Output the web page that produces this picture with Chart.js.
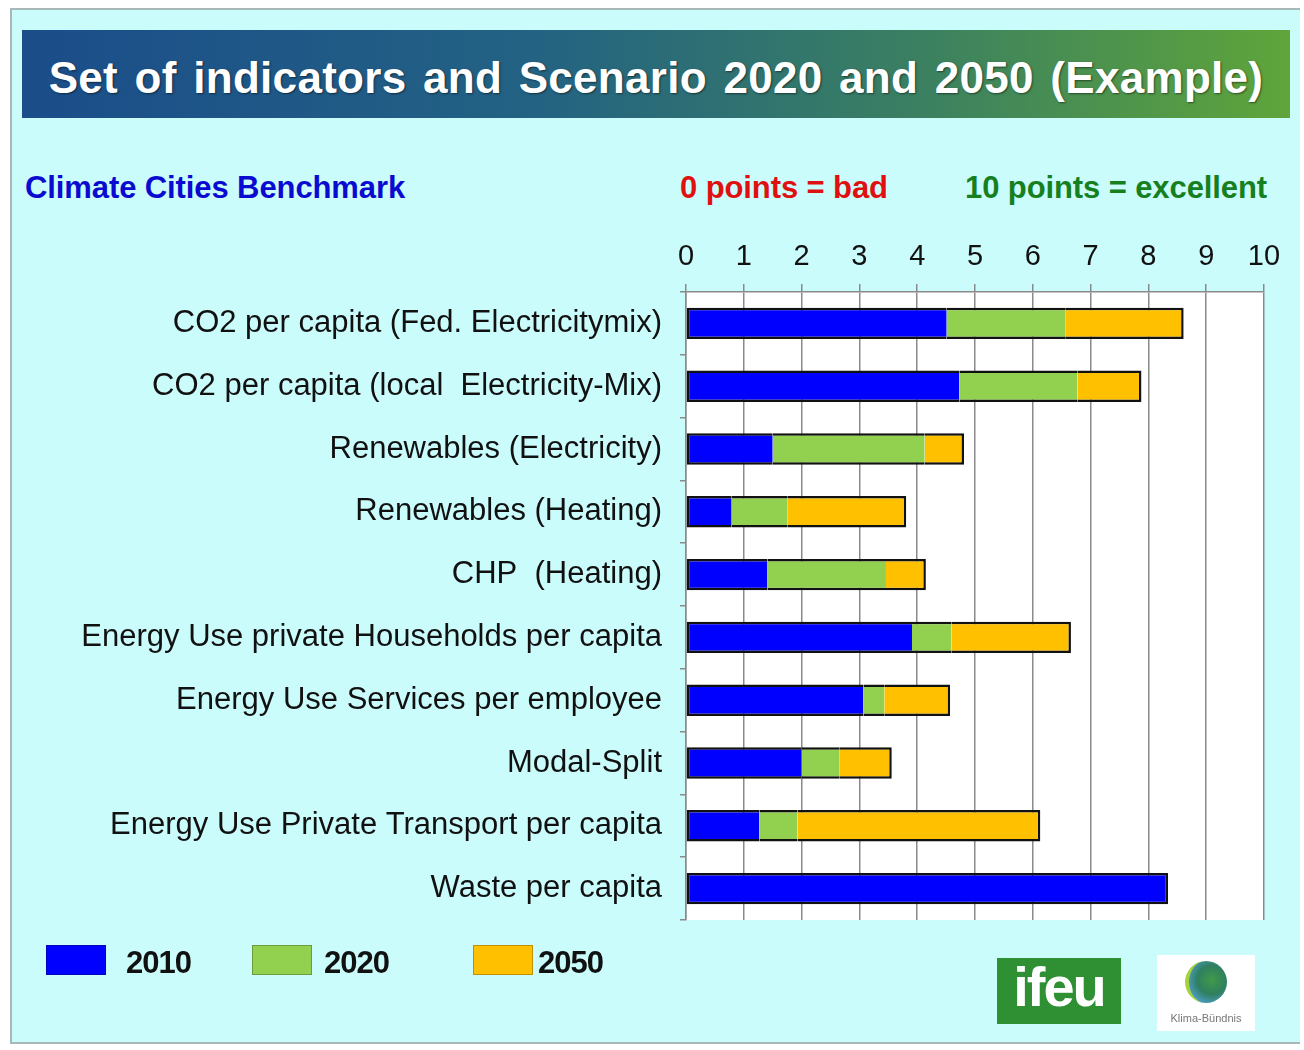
<!DOCTYPE html>
<html>
<head>
<meta charset="utf-8">
<script src="https://cdn.jsdelivr.net/npm/chart.js@4/dist/chart.umd.min.js"></script>
<style>
  html, body { margin:0; padding:0; }
  body { width:1304px; height:1050px; position:relative; overflow:hidden; background:#ffffff; font-family:"Liberation Sans", Arial, sans-serif; }
  #frame { position:absolute; left:10px; top:8px; width:1290px; height:1036px; background:#cbfcfc; border-left:2px solid #a8b8b8; border-top:2px solid #a8b8b8; border-bottom:2px solid #a8b8b8; box-sizing:border-box; }
  #banner { position:absolute; left:22px; top:30px; width:1268px; height:88px; background:linear-gradient(90deg,#1b4d8a 0%,#236283 40%,#3a7f62 70%,#5fa53a 100%); }
  #title { position:absolute; left:22px; top:34px; width:1268px; height:88px; line-height:88px; text-align:center; color:#fff; font-weight:bold; font-size:44px; letter-spacing:0.3px; word-spacing:4px; text-shadow:1px 1px 2px rgba(0,0,0,0.5); white-space:nowrap; }
  .hdr { position:absolute; top:170px; font-weight:bold; font-size:31px; letter-spacing:-0.1px; white-space:nowrap; line-height:36px; }
  #chartwrap { position:absolute; left:0; top:0; width:1304px; height:1050px; }
  .lg { position:absolute; top:945px; height:32px; }
  .lgbox { position:absolute; top:0; width:60px; height:30px; box-sizing:border-box; }
  .lgtxt { position:absolute; top:0px; font-weight:bold; font-size:31px; letter-spacing:-1px; line-height:36px; color:#111; }
  #ifeu { position:absolute; left:997px; top:958px; width:124px; height:66px; background:#2f8f33; color:#fff; font-weight:bold; font-size:56px; line-height:58px; text-align:center; letter-spacing:-2px; overflow:hidden; }
  #kb { position:absolute; left:1157px; top:955px; width:98px; height:76px; background:#fff; }
  #kb .globe { position:absolute; left:28px; top:6px; width:42px; height:42px; border-radius:50%; background:radial-gradient(circle at 60% 45%,#3f9a4a 0%,#2f7f5f 45%,#4f9fd0 80%); border-left:4px solid #a6d23c; box-sizing:border-box; }
  #kb .t { position:absolute; left:0; top:57px; width:98px; text-align:center; font-size:11px; color:#777; }
</style>
</head>
<body>
<div id="frame"></div>
<div id="banner"></div>
<div id="title">Set of indicators and Scenario 2020 and 2050 (Example)</div>
<div class="hdr" style="left:25px;color:#0a0ad0;">Climate Cities Benchmark</div>
<div class="hdr" style="left:680px;color:#e01010;">0 points = bad</div>
<div class="hdr" style="left:965px;color:#16801e;">10 points = excellent</div>
<div id="chartwrap"><canvas id="c" width="1304" height="1050"></canvas></div>
<div id="legend"></div>
<div id="ifeu">ifeu</div>
<div id="kb"><div class="globe"></div><div class="t">Klima-Bündnis</div></div>
<script>
const categories = [
  "CO2 per capita (Fed. Electricitymix)",
  "CO2 per capita (local  Electricity-Mix)",
  "Renewables (Electricity)",
  "Renewables (Heating)",
  "CHP  (Heating)",
  "Energy Use private Households per capita",
  "Energy Use Services per employee",
  "Modal-Split",
  "Energy Use Private Transport per capita",
  "Waste per capita"
];
const seriesNames = ["2010", "2020", "2050"];
// points reached by 2010, additional points by 2020, additional points by 2050
const v2010 = [4.51, 4.73, 1.50, 0.79, 1.41, 3.91, 3.07, 2.00, 1.27, 8.34];
const v2020 = [2.05, 2.04, 2.63, 0.97, 2.05, 0.68, 0.36, 0.66, 0.66, 0];
const v2050 = [2.05, 1.11, 0.68, 2.05, 0.69, 2.07, 1.14, 0.90, 4.20, 0];
const xTickMin = 0, xTickMax = 10, xTickStep = 1;
const colors = ["#0000ff", "#92d050", "#ffc000"];

const seriesData = [v2010, v2020, v2050];

// legend (HTML)
const legendPos = [[46, 126], [252, 324], [473, 538]];
const lg = document.getElementById('legend');
seriesNames.forEach((n, i) => {
  const d = document.createElement('div');
  d.className = 'lg';
  d.style.left = '0px';
  d.innerHTML = '<div class="lgbox" style="left:' + legendPos[i][0] + 'px;background:' + colors[i] + ';border:1px solid rgba(0,0,0,0.25)"></div>' +
                '<div class="lgtxt" style="left:' + legendPos[i][1] + 'px">' + n + '</div>';
  lg.appendChild(d);
});

function borderFor(dsIndex) {
  return (ctx) => {
    const i = ctx.dataIndex;
    const v = seriesData[dsIndex][i];
    if (!v) return 0;
    let isFirst = true, isLast = true;
    for (let k = 0; k < dsIndex; k++) if (seriesData[k][i]) isFirst = false;
    for (let k = dsIndex + 1; k < seriesData.length; k++) if (seriesData[k][i]) isLast = false;
    return { top: 2.5, bottom: 2.5, left: isFirst ? 2.5 : 0, right: isLast ? 2.5 : 0 };
  };
}

const plotBg = {
  id: 'plotBg',
  beforeDraw(chart) {
    const { ctx, chartArea: a } = chart;
    ctx.save();
    ctx.fillStyle = '#ffffff';
    ctx.fillRect(a.left, a.top, a.right - a.left, a.bottom - a.top);
    ctx.restore();
  }
};

const FONT = "'Liberation Sans', Arial, sans-serif";

new Chart(document.getElementById('c'), {
  type: 'bar',
  data: {
    labels: categories,
    datasets: seriesNames.map((n, i) => ({
      label: n,
      data: seriesData[i],
      backgroundColor: colors[i],
      borderColor: '#111',
      borderWidth: borderFor(i),
      borderSkipped: false,
      categoryPercentage: 1,
      barPercentage: 0.5
    }))
  },
  options: {
    indexAxis: 'y',
    responsive: false,
    animation: false,
    maintainAspectRatio: false,
    layout: { padding: { left: 0, top: 232, right: 40, bottom: 130 } },
    plugins: { legend: { display: false }, tooltip: { enabled: false } },
    scales: {
      x: {
        position: 'top',
        stacked: true,
        min: xTickMin,
        max: xTickMax,
        ticks: { stepSize: xTickStep, color: '#111', font: { family: FONT, size: 29 }, padding: 10, maxRotation: 0 },
        grid: { color: '#8a8a8a', lineWidth: 1.5, tickLength: 8, drawTicks: true },
        border: { display: true, color: '#8a8a8a', width: 1.5 },
        afterFit: (s) => { s.height = 60; }
      },
      y: {
        stacked: true,
        offset: true,
        ticks: { color: '#111', font: { family: FONT, size: 31 }, padding: 18, autoSkip: false },
        grid: { drawOnChartArea: false, drawTicks: true, tickLength: 6, color: '#8a8a8a', lineWidth: 1.5, offset: true },
        border: { display: true, color: '#8a8a8a', width: 1.5 },
        afterFit: (s) => { s.width = 686; }
      }
    }
  },
  plugins: [plotBg]
});
</script>
</body>
</html>
